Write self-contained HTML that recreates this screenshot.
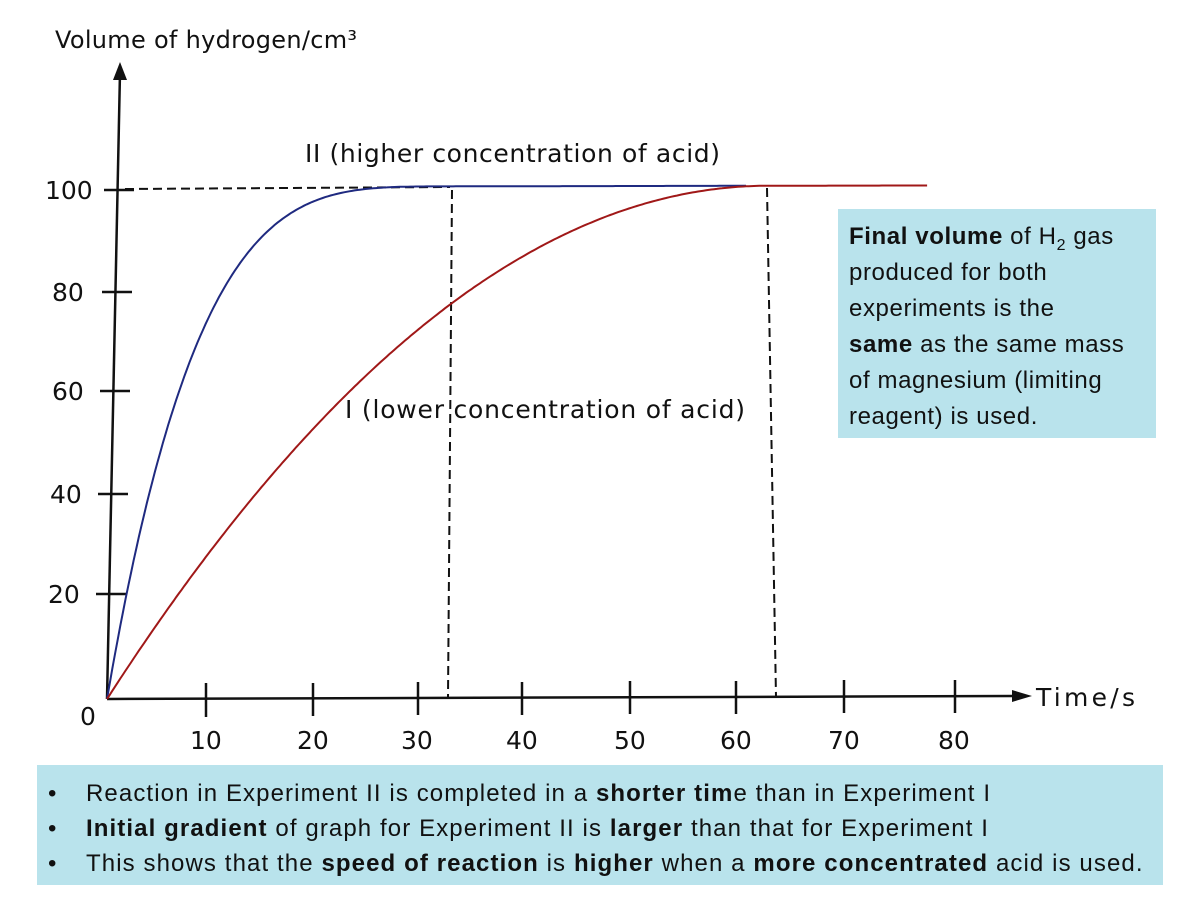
<!DOCTYPE html>
<html><head><meta charset="utf-8"><style>
body{margin:0;width:1199px;height:900px;background:#fff;overflow:hidden;position:relative;font-family:"DejaVu Sans","Liberation Sans",sans-serif}
.box{position:absolute;background:#b9e3ec;font-family:"Liberation Sans",sans-serif;color:#111}
</style></head><body>
<svg width="1199" height="900" style="position:absolute;left:0;top:0" font-family="DejaVu Sans, Liberation Sans, sans-serif">
<text x="55" y="48" font-size="24" fill="#111" textLength="302">Volume of hydrogen/cm³</text>
<line x1="120" y1="72" x2="107" y2="699" stroke="#111" stroke-width="2.5"/>
<polygon points="120,62 113,80 127,80" fill="#111"/>
<line x1="107" y1="699" x2="1015" y2="696" stroke="#111" stroke-width="2.5"/>
<polygon points="1032,696 1012,690 1012,702" fill="#111"/>
<text x="1036" y="706" font-size="25" fill="#111" textLength="99">Time/s</text>
<g stroke="#111" stroke-width="2.5">
<line x1="104" y1="190" x2="134" y2="190"/>
<line x1="102" y1="292" x2="132" y2="292"/>
<line x1="100" y1="391" x2="130" y2="391"/>
<line x1="98" y1="494" x2="128" y2="494"/>
<line x1="96" y1="594" x2="126" y2="594"/>
<line x1="206" y1="683" x2="206" y2="717"/>
<line x1="313" y1="683" x2="313" y2="716"/>
<line x1="418" y1="682" x2="418" y2="715"/>
<line x1="522" y1="682" x2="522" y2="715"/>
<line x1="630" y1="681" x2="630" y2="714"/>
<line x1="736" y1="681" x2="736" y2="714"/>
<line x1="844" y1="680" x2="844" y2="713"/>
<line x1="955" y1="680" x2="955" y2="713"/>
</g>
<g font-size="25" fill="#111">
<text x="45" y="199">100</text><text x="52" y="301">80</text><text x="52" y="400">60</text>
<text x="50" y="503">40</text><text x="48" y="603">20</text><text x="80" y="725">0</text>
<text x="190" y="749">10</text><text x="297" y="749">20</text><text x="401" y="749">30</text>
<text x="506" y="749">40</text><text x="614" y="749">50</text><text x="720" y="749">60</text>
<text x="828" y="749">70</text><text x="938" y="749">80</text>
<text x="305" y="162" textLength="415">II (higher concentration of acid)</text>
<text x="345" y="418" textLength="400">I (lower concentration of acid)</text>
</g>
<g stroke="#111" stroke-width="2" stroke-dasharray="9,5" fill="none">
<line x1="125" y1="189" x2="450" y2="187"/>
<line x1="452" y1="190" x2="448" y2="697"/>
<line x1="767" y1="188" x2="776" y2="697"/>
</g>
<path id="blue" fill="none" stroke="#1f2a80" stroke-width="2"/>
<path id="red" fill="none" stroke="#a01818" stroke-width="2"/>
</svg>
<div class="box" style="left:838px;top:209px;width:318px;height:229px;padding:10px 0 0 11px;box-sizing:border-box;font-size:24px;line-height:36px;letter-spacing:0.6px"><b>Final volume</b> of H<sub style="font-size:16px;line-height:0">2</sub> gas<br>produced for both<br>experiments is the<br><b>same</b> as the same mass<br>of magnesium (limiting<br>reagent) is used.</div>
<div class="box" style="left:37px;top:765px;width:1126px;height:120px;font-size:24px;line-height:35px;padding-top:11px;box-sizing:border-box">
<div style="position:relative;padding-left:49px;letter-spacing:1.1px"><span style="position:absolute;left:11px">•</span>Reaction in Experiment II is completed in a <b>shorter tim</b>e than in Experiment I</div>
<div style="position:relative;padding-left:49px;letter-spacing:1.1px"><span style="position:absolute;left:11px">•</span><b>Initial gradient</b> of graph for Experiment II is <b>larger</b> than that for Experiment I</div>
<div style="position:relative;padding-left:49px;letter-spacing:1.1px"><span style="position:absolute;left:11px">•</span>This shows that the <b>speed of reaction</b> is <b>higher</b> when a <b>more concentrated</b> acid is used.</div>
</div>
<script>
function mk(T,p,end){var d="";for(var t=0;t<=end;t+=0.25){var v=t>=T?100:100*(1-Math.pow(1-t/T,p));var x=107+t*10.65,y=699-v*5.12-t*0.02;d+=(t?"L":"M")+x.toFixed(1)+","+y.toFixed(1);}return d;}
document.getElementById("blue").setAttribute("d",mk(33,4,60));
document.getElementById("red").setAttribute("d",mk(62,2.0,77));
</script>
</body></html>
